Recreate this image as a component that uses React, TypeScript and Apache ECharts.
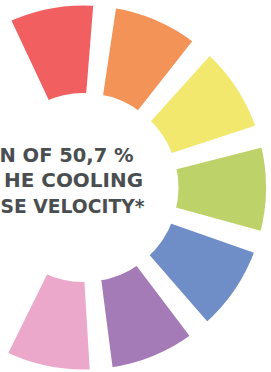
import React, { useEffect, useRef } from "react";
import * as echarts from "echarts";

const segments = ["Red", "Orange", "Yellow", "Green", "Blue", "Purple", "Pink"];
const values = [1, 1, 1, 1, 1, 1, 1];
const colors = ["#F15F61", "#F49357", "#F2E86D", "#BDD36A", "#6F8EC8", "#A57BB7", "#EBA8CB"];
const textLines = ["N OF 50,7 %", "HE COOLING", "SE VELOCITY*"];

export default function App() {
  const ref = useRef<HTMLDivElement>(null);
  useEffect(() => {
    if (!ref.current) return;
    const chart = echarts.init(ref.current, null, { renderer: "svg" });
    const lineY = [155.5, 181, 206.3];
    const lineRight = [133.5, 143, 144.5];
    const lineScale = [1.025, 1.05, 0.985];
    chart.setOption({
      animation: false,
      backgroundColor: "#ffffff",
      series: [
        {
          type: "pie",
          center: [84, 187.5],
          radius: [89.25, 187.25],
          startAngle: 117.1,
          endAngle: -118.2,
          clockwise: true,
          padAngle: 3.93,
          silent: true,
          label: { show: false },
          labelLine: { show: false },
          itemStyle: { borderColor: "#ffffff", borderWidth: 10.5, borderJoin: "miter" },
          data: segments.map((name, i) => ({
            name,
            value: values[i],
            itemStyle: { color: colors[i] },
          })),
        },
      ],
      graphic: textLines.map((t, i) => ({
        type: "text",
        x: lineRight[i],
        y: lineY[i],
        scaleX: lineScale[i],
        style: {
          text: t,
          fill: "#4A4E50",
          font: "bold 19px 'DejaVu Sans'",
          textAlign: "right",
          textVerticalAlign: "middle",
        },
      })),
    });
    return () => chart.dispose();
  }, []);
  return (
    <div
      ref={ref}
      style={{ position: "fixed", left: 0, top: 0, width: 271, height: 372 }}
    />
  );
}
